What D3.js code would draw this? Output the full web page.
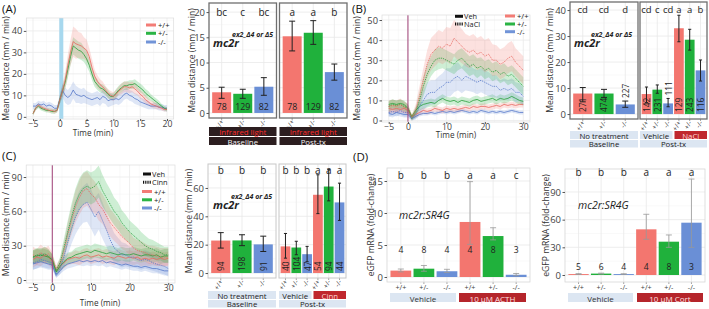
<!DOCTYPE html>
<html><head><meta charset="utf-8">
<script src="https://cdn.jsdelivr.net/npm/d3@7"></script>
<style>body{margin:0;background:#fff}svg{display:block}</style>
</head><body><script>
// ---------------- DATA ----------------
const genotypes = ["+/+", "+/-", "-/-"];

// Panel A time course (infrared light)
const timeA = [-5,-4.5,-4,-3.5,-3,-2.5,-2,-1.5,-1,-0.5,0,0.5,1,1.5,2,2.5,3,3.5,4,4.5,5,5.5,6,6.5,7,7.5,8,8.5,9,9.5,10,10.5,11,11.5,12,12.5,13,13.5,14,14.5,15,15.5,16,16.5,17,17.5,18,18.5,19,19.5,20];
const aWT   = [1.5,4,5.5,4.5,4,3.5,3,3,2.5,3, 8,12,17,24,30,35,34,33.5,33,32, 31,28,23,19,16.5,15,14,12.5,11,10, 9.5,10.5,12,13,14,14,13.5,14,13,12, 10.5,9.5,8,7,6,5.5,5,4.5,4,3.5, 3.5];
const aHet  = [1.5,4,5,4,3.5,3,3,2.5,2.5,3, 8,12,16,22,28,33,32,31,30.5,29, 27,24,20,16.5,15,13.5,13,12,10.5,9.5, 9.5,11,12.5,13.5,14.5,14.5,15,15,15.5,14.5, 13.5,12.5,11,10,9,8,7,6,5,4, 3.5];
const aMut  = [5,5,6,5.5,6,5,5.5,5,4,4, 8,12.5,10,9,10,12.5,10.5,10,9.5,10, 9,8.5,8,8.5,9,8,9.5,9,7.5,8, 8,8.5,8,9,10.5,11,10,9.5,8.5,8, 7,6.5,6,5.5,5,5,5,4.5,4.5,4, 4];
const aWTse  = [1,1,1,1,1,1,1,1,1,1, 2,3,4,5,6,7,7,6,6,5, 5,4,4,3,3,2.5,2.5,2,2,2, 2,2,2,2.5,2.5,2.5,2.5,2.5,2.5,2, 2,2,2,1.5,1.5,1.5,1.5,1,1,1, 1];
const aHetse = [1,1,1,1,1,1,1,1,1,1, 2,2.5,3,4,4,4,4,4,4,3.5, 3.5,3,3,2.5,2.5,2,2,2,2,1.5, 1.5,2,2,2,2,2,2,2,2,2, 2,2,2,2,1.5,1.5,1.5,1.5,1,1, 1];
const aMutse = [1.5,1.5,1.5,1.5,1.5,1.5,1.5,1.5,1.5,1.5, 2,3,3.5,3.5,4,4,4,3.5,3.5,3.5, 3,3,3,3,3,3,3,3,3,3, 2.5,2.5,2.5,2.5,2.5,2.5,2.5,2.5,2.5,2.5, 2,2,2,2,1.5,1.5,1.5,1.5,1.5,1.5, 1.5];

// Panel A bars
const aBarBase   = [4.1, 3.8, 5.2], aBarBaseLo = [2.9, 2.9, 3.5], aBarBaseHi = [5.1, 4.7, 7.0];
const aBarPost   = [15.2, 15.9, 8.1], aBarPostLo = [12.3, 13.6, 6.5], aBarPostHi = [18.2, 18.3, 9.7];
const aN = [78, 129, 82];
const aLetters = ["bc","c","bc","a","a","b"];

// Panels B & C time axis
const timeBC = [-5,-4,-3,-2,-1,0,1,2,3,4,5,6,7,8,9,10,11,12,13,14,15,16,17,18,19,20,21,22,23,24,25,26,27,28,29,30];

// Panel B (NaCl)
const bNaClWT  = [7,7.5,7,8,6.5,6, 1.5,5,12,20,28,33,35,37,36,38, 37,41,39,37,35,34,35,33,34,32, 33,30,30,28,29,31,32,29,27,25];
const bNaClHet = [7,8,7.5,8,7,6, 1,4,10,17,23,27,30,31,31,30, 29,28,30,31,29,27,28,26,27,25, 26,24,25,23,24,22,23,21,19,17];
const bNaClMut = [4,4.5,4,5,4,4, 1,3,7,10,13,14,14,16,17,19, 19,21,22,20,22,21,20,19,20,19, 18,17,17,15,16,15,16,14,14,12];
const bVehWT   = [6,5.5,6,5.5,6,5, 2,3,4,5,4.5,5,6,5.5,5,6, 5.5,6,5.5,6,6.5,6,7,6.5,7,7, 6.5,7,7.5,7,8,7.5,8,7.5,8,8];
const bVehHet  = [8,8.5,8,8.5,8,6, 2,5,7,8,8.5,9,8.5,10,11,10, 9.5,10,9,10,9.5,9,10,10.5,9.5,10, 10.5,11,10,11,10.5,11,12,11,10,9.5];
const bVehMut  = [3.5,3,4,3.5,3,3, 1,2,3,3.5,3.5,4,3.5,4,4.5,4, 4.5,4,4.5,5,4.5,4,4.5,4,5,4.5, 4,4.5,4,4.5,4,4.5,5,4.5,4,4];
const bNaClWTse  = [3,3,3,3,3,2.5, 1.5,3,5,6,7,8,8,8,8,8.5, 9,9,9,8.5,8,8,8,8,8,8, 8,8,7.5,7.5,7.5,7.5,7.5,7,7,7];
const bNaClHetse = [2.5,2.5,2.5,2.5,2.5,2, 1,2.5,4,5,5,5,5.5,5.5,5,5, 5,5,5,5,5,5,5,5,4.5,4.5, 4.5,4.5,4.5,4.5,4.5,4.5,4.5,4.5,4.5,4.5];
const bNaClMutse = [2,2,2,2,2,2, 1,2.5,4,5,6,6,6,6,6.5,7, 7,7,7,6.5,7,6.5,6,6,6,6, 6,5.5,5.5,5,5,5,5,5,4.5,4.5];
const bVehWTse   = [2,2,2,2,2,2, 1,1.5,1.5,1.5,1.5,1.5,1.5,1.5,1.5,1.5, 1.5,1.5,1.5,1.5,1.5,1.5,1.5,1.5,1.5,1.5, 1.5,1.5,1.5,1.5,1.5,1.5,1.5,1.5,1.5,1.5];
const bVehHetse  = [2,2,2,2,2,2, 1,1.5,2,2,2,2,2,2,2,2, 2,2,2,2,2,2,2,2,2,2, 2,2,2,2,2,2,2,2,2,2];
const bVehMutse  = [1.5,1.5,1.5,1.5,1.5,1.5, 1,1,1,1,1,1,1,1,1,1, 1,1,1,1,1,1,1,1,1,1, 1,1,1,1,1,1,1,1,1,1];

// Panel B bars
const bBarBase = [7.9, 7.9, 3.7], bBarBaseLo = [4.7, 6.4, 2.6], bBarBaseHi = [10.2, 9.5, 5.0];
const bBarPost = [7.7, 9.4, 4.1, 33.0, 28.6, 16.8], bBarPostLo = [4.4, 8.0, 2.8, 27.8, 24.6, 12.7], bBarPostHi = [10.4, 11.2, 6.0, 38.0, 32.6, 20.8];
const bNBase = [271, 474, 227], bNPost = [142, 231, 111, 129, 243, 116];
const bLetters = ["cd","cd","d","cd","c","cd","a","a","b"];

// Panel C (Cinn)
const cCinnWT  = [22,20,24,21,23,18, 10,14,25,40,52,64,72,78,80,75, 72,66,62,56,50,46,42,38,35,32, 28,26,25,24,22,22,21,20,20,20];
const cCinnHet = [20,22,21,23,21,17, 8,15,28,42,55,67,75,80,82,80, 82,86,78,72,66,60,56,50,46,42, 39,36,33,30,28,27,25,24,22,22];
const cCinnMut = [15,16,18,17,16,15, 5,10,20,33,45,55,62,66,68,62, 55,60,52,44,35,28,25,22,22,20, 20,18,17,18,17,15,14,13,12,10];
const cVehWT   = [18,20,19,22,20,16, 8,12,15,18,19,20,19,21,22,20, 21,22,20,21,20,19,21,20,19,20, 19,20,18,19,18,19,18,19,18,19];
const cVehHet  = [20,21,22,21,20,18, 7,12,16,19,20,22,23,24,25,24, 26,25,24,23,24,23,22,23,22,22, 23,22,21,22,22,21,22,20,21,21];
const cVehMut  = [14,15,16,15,14,13, 4,8,12,14,15,16,17,16,17,16, 17,16,17,15,16,15,14,13,14,13, 12,12,11,12,11,10,10,9,8,8];
const cCinnWTse  = [7,7,7,7,7,6, 3,5,8,10,12,14,15,15,15,15, 14,14,13,13,12,12,11,11,10,10, 9,9,9,8,8,8,8,8,8,8];
const cCinnHetse = [6,6,6,6,6,5, 3,5,8,10,12,13,14,14,14,14, 14,14,14,13,13,12,12,11,11,10, 10,10,9,9,8,8,8,7,7,7];
const cCinnMutse = [6,6,6,6,6,5, 3,5,8,11,13,15,16,16,17,17, 17,16,16,15,14,13,12,11,10,9, 9,8,8,8,8,7,7,7,7,7];
const cVehWTse   = [7,7,7,7,7,6, 3,4,5,5,5,6,6,6,6,6, 6,6,6,6,6,6,6,6,6,6, 6,6,6,6,6,6,6,6,6,6];
const cVehHetse  = [6,6,6,6,6,5, 3,4,5,5,5,6,6,6,6,6, 6,6,6,6,6,6,6,6,6,6, 6,6,6,6,6,6,6,6,6,6];
const cVehMutse  = [5,5,5,5,5,4, 2,3,4,4,4,4,4,4,4,4, 4,4,4,4,4,4,4,4,4,4, 4,4,4,4,4,4,4,4,4,4];

// Panel C bars
const cBarBase = [22.9, 23.0, 20.2], cBarBaseLo = [17.6, 19.3, 15.2], cBarBaseHi = [28.5, 27.0, 26.0];
const cBarPost = [18.8, 18.0, 13.3, 55.2, 61.0, 49.8], cBarPostLo = [10.5, 12.9, 8.0, 41.9, 50.9, 37.1], cBarPostHi = [27.9, 22.4, 18.8, 69.3, 73.1, 63.4];
const cNBase = [94, 198, 91], cNPost = [40, 104, 47, 54, 94, 44];
const cLetters = ["b","b","b","b","b","b","a","a","a"];

// Panel D (qPCR)
const dACTH = [1.0, 1.3, 0.9, 8.6, 6.4, 0.35], dACTHLo = [0.8, 0.9, 0.7, 5.1, 5.8, 0.2], dACTHHi = [1.25, 1.8, 1.2, 14.9, 7.7, 0.55];
const dACTHN = [4, 8, 4, 4, 8, 3];
const dACTHLetters = ["b","b","b","a","a","c"];
const dCort = [1.0, 1.5, 1.0, 49.5, 36.1, 56.7], dCortLo = [0.5, 1.0, 0.6, 38.7, 30.0, 30.0], dCortHi = [1.5, 2.0, 1.4, 65.8, 43.4, 104.0];
const dCortN = [5, 6, 4, 4, 8, 3];
const dCortLetters = ["b","b","b","a","a","a"];

// ---------------- DRAWING ----------------
const FONT = '"Open Sans", "Noto Sans", sans-serif';
const fillCol = {"+/+":"#F3766F", "+/-":"#20B13C", "-/-":"#6A8FD6"};
const lineCol = {"+/+":"#E8675F", "+/-":"#27A03A", "-/-":"#5677C9"};
const svg = d3.select("body").append("svg").attr("width",709).attr("height",309)
  .style("font-family", FONT);

function T(g, x, y, s, o = {}) {
  const t = g.append("text").attr("x", x).attr("y", y).text(s)
    .attr("font-size", o.size || 9).attr("fill", o.fill || "#333")
    .attr("text-anchor", o.anchor || "start");
  if (o.weight) t.attr("font-weight", o.weight);
  if (o.style) t.attr("font-style", o.style);
  if (o.rot !== undefined) t.attr("transform", `rotate(${o.rot},${x},${y})`);
  if (o.base) t.attr("dominant-baseline", o.base);
  return t;
}
function minors(ticks, dom) {
  const st = ticks[1] - ticks[0], out = [];
  for (let v = ticks[0] - st / 2; v <= ticks[ticks.length - 1] + st / 2 + 1e-9; v += st) {
    if (v >= Math.min(...dom) && v <= Math.max(...dom)) out.push(v);
  }
  return out;
}
function axisLeft(g, y, ticks, xPos, size) {
  const ax = g.append("g").attr("transform", `translate(${xPos},0)`)
    .call(d3.axisLeft(y).tickValues(ticks).tickSize(2.5).tickPadding(1.5).tickFormat(d3.format("d")));
  ax.select(".domain").remove();
  ax.selectAll("line").attr("stroke", "#555");
  ax.selectAll("text").attr("font-size", size).attr("fill", "#444").attr("font-family", FONT);
}
function axisBottom(g, x, ticks, yPos, size) {
  const ax = g.append("g").attr("transform", `translate(0,${yPos})`)
    .call(d3.axisBottom(x).tickValues(ticks).tickSize(2).tickPadding(0).tickFormat(d3.format("d")));
  ax.select(".domain").remove();
  ax.selectAll("line").attr("stroke", "#555");
  ax.selectAll("text").attr("font-size", size).attr("fill", "#444").attr("font-family", FONT);
}

function lineChart(o) {
  const g = svg.append("g");
  const x = d3.scaleLinear().domain(o.xDom).range([o.l, o.r]);
  const y = d3.scaleLinear().domain(o.yDom).range([o.b, o.t]);
  // grid
  minors(o.yTicks, o.yDom).forEach(v => g.append("line").attr("x1", o.l).attr("x2", o.r).attr("y1", y(v)).attr("y2", y(v)).attr("stroke", "#f3f3f3").attr("stroke-width", 0.5));
  minors(o.xTicks, o.xDom).forEach(v => g.append("line").attr("y1", o.t).attr("y2", o.b).attr("x1", x(v)).attr("x2", x(v)).attr("stroke", "#f3f3f3").attr("stroke-width", 0.5));
  o.yTicks.forEach(v => g.append("line").attr("x1", o.l).attr("x2", o.r).attr("y1", y(v)).attr("y2", y(v)).attr("stroke", "#ebebeb").attr("stroke-width", 0.8));
  o.xTicks.forEach(v => g.append("line").attr("y1", o.t).attr("y2", o.b).attr("x1", x(v)).attr("x2", x(v)).attr("stroke", "#ebebeb").attr("stroke-width", 0.8));
  if (o.vband) g.append("rect").attr("x", x(0) - 0.5).attr("y", o.t).attr("width", 4).attr("height", o.b - o.t).attr("fill", "#a7d8ee");
  // ribbons
  o.series.forEach(s => {
    const pts = o.time.map((t, i) => ({t, m: s.mean[i], se: s.se[i]}));
    g.append("path").datum(pts)
      .attr("d", d3.area().x(d => x(d.t)).y0(d => y(Math.max(d.m - d.se, o.yDom[0]))).y1(d => y(d.m + d.se)))
      .attr("fill", fillCol[s.geno]).attr("opacity", 0.22);
  });
  o.series.forEach(s => {
    const pts = o.time.map((t, i) => ({t, m: s.mean[i]}));
    g.append("path").datum(pts).attr("d", d3.line().x(d => x(d.t)).y(d => y(d.m)))
      .attr("fill", "none").attr("stroke", lineCol[s.geno]).attr("stroke-width", 0.8)
      .attr("stroke-dasharray", s.dotted ? "1.3,0.9" : null);
  });
  if (o.vline) g.append("line").attr("x1", x(0)).attr("x2", x(0)).attr("y1", o.t).attr("y2", o.b).attr("stroke", "#a2437a").attr("stroke-width", 1);
  g.append("rect").attr("x", o.l).attr("y", o.t).attr("width", o.r - o.l).attr("height", o.b - o.t).attr("fill", "none").attr("stroke", "#dcdcdc").attr("stroke-width", 0.7);
  axisLeft(g, y, o.yTicks, o.l, 9.3);
  axisBottom(g, x, o.xTicks, o.b, 8.6);
  T(g, o.yTitleX, (o.t + o.b) / 2, "Mean distance (mm / min)", {size: 8.6, anchor: "middle", rot: -90, fill: "#333"});
  T(g, o.xTitleX, o.xTitleY, "Time (min)", {size: 8.2, anchor: "middle", fill: "#333"});
  // legend
  const L = o.legend;
  if (L.treat) {
    L.treat.forEach((tr, i) => {
      const yy = L.treatY[i];
      g.append("line").attr("x1", L.tx).attr("x2", L.tx + 8).attr("y1", yy).attr("y2", yy).attr("stroke", "#111").attr("stroke-width", 3).attr("stroke-dasharray", i === 1 ? "1,0.8" : null);
      T(g, L.tx + 9, yy, tr, {size: 7.4, base: "central", fill: "#222"});
    });
  }
  genotypes.forEach((gn, i) => {
    const yy = L.genoY[i];
    g.append("line").attr("x1", L.gx).attr("x2", L.gx + 10).attr("y1", yy).attr("y2", yy).attr("stroke", fillCol[gn]).attr("stroke-width", 3).attr("opacity", 0.95);
    T(g, L.gx + 12, yy, gn, {size: 7.6, base: "central", fill: "#222"});
  });
}

function barChart(o) {
  const g = svg.append("g");
  const y = d3.scaleLinear().domain(o.yDom).range([o.b, o.t]);
  let li = 0;
  o.panels.forEach((p, pi) => {
    const x = d3.scaleBand().domain(d3.range(p.vals.length)).range([p.x0, p.x1]).paddingInner(0.1).paddingOuter(0.15);
    g.append("rect").attr("x", p.x0).attr("y", o.t).attr("width", p.x1 - p.x0).attr("height", o.b - o.t).attr("fill", "#fff");
    minors(o.yTicks, o.yDom).forEach(v => g.append("line").attr("x1", p.x0).attr("x2", p.x1).attr("y1", y(v)).attr("y2", y(v)).attr("stroke", "#f3f3f3").attr("stroke-width", 0.5));
    o.yTicks.forEach(v => g.append("line").attr("x1", p.x0).attr("x2", p.x1).attr("y1", y(v)).attr("y2", y(v)).attr("stroke", "#e8e8e8").attr("stroke-width", 0.8));
    p.vals.forEach((v, i) => g.append("line").attr("x1", x(i) + x.bandwidth() / 2).attr("x2", x(i) + x.bandwidth() / 2).attr("y1", o.t).attr("y2", o.b).attr("stroke", "#e8e8e8").attr("stroke-width", 0.8));
    const geno = i => genotypes[i % 3];
    g.selectAll(null).data(p.vals).enter().append("rect")
      .attr("x", (d, i) => x(i)).attr("width", x.bandwidth())
      .attr("y", d => y(d)).attr("height", d => y(0) - y(d))
      .attr("fill", (d, i) => fillCol[geno(i)]);
    const cap = Math.min(6, x.bandwidth() * 0.32);
    p.vals.forEach((v, i) => {
      const cx = x(i) + x.bandwidth() / 2;
      const ec = o.errCol || "#222", ew = o.errW || 1;
      g.append("line").attr("x1", cx).attr("x2", cx).attr("y1", y(p.lo[i])).attr("y2", y(p.hi[i])).attr("stroke", ec).attr("stroke-width", ew);
      [p.lo[i], p.hi[i]].forEach(e => g.append("line").attr("x1", cx - cap / 2).attr("x2", cx + cap / 2).attr("y1", y(e)).attr("y2", y(e)).attr("stroke", ec).attr("stroke-width", ew));
      // letters
      T(g, cx, o.letterY, o.letters[li++], {size: o.letterSize || 10, anchor: "middle", fill: "#222"});
      // n labels
      if (o.nMode === "h") {
        T(g, cx, y(0) - 3, p.n[i], {size: 8.8, anchor: "middle", fill: "#222"});
      } else if (o.nMode === "v") {
        const t = T(g, cx, y(0) - 2, p.n[i], {size: 8.4, anchor: "start", fill: "#222", base: "central"});
        const len = t.node().getComputedTextLength();
        const barH = y(0) - y(v);
        let yy = y(0) - 2;
        if (barH < len + 3) yy = y(p.hi[i]) - 3;
        t.attr("y", yy).attr("transform", `rotate(-90,${cx},${yy})`);
      } else {
        T(g, cx, y(o.nAt), p.n[i], {size: 8.6, anchor: "middle", fill: "#222", base: "central"});
      }
      // x tick + labels
      g.append("line").attr("x1", cx).attr("x2", cx).attr("y1", o.b).attr("y2", o.b + 2).attr("stroke", "#666").attr("stroke-width", 0.6);
      if (o.xlabRot) {
        T(g, cx + 2.5, o.b + 3.5, geno(i), {size: 6.8, anchor: "end", rot: -60, fill: "#444"});
      } else {
        T(g, cx, o.xlabY, geno(i), {size: 7.2, anchor: "middle", fill: "#444"});
      }
    });
    g.append("rect").attr("x", p.x0).attr("y", o.t).attr("width", p.x1 - p.x0).attr("height", o.b - o.t).attr("fill", "none").attr("stroke", o.border).attr("stroke-width", o.borderW || 1.2);
  });
  axisLeft(g, y, o.yTicks, o.panels[0].x0, 9.5);
  T(g, o.yTitleX, (o.t + o.b) / 2, o.yTitle, {size: 8.6, anchor: "middle", rot: -90, fill: "#333"});
  (o.strips || []).forEach(s => {
    g.append("rect").attr("x", s.x0).attr("y", s.y0).attr("width", s.x1 - s.x0).attr("height", s.y1 - s.y0).attr("fill", s.fill);
    T(g, (s.x0 + s.x1) / 2, (s.y0 + s.y1) / 2 + 0.5, s.text, {size: s.size || 7.8, anchor: "middle", fill: s.color, base: "central"});
  });
  return g;
}

function mc2r(x, y, sx, sy) {
  T(svg, x, y, "mc2r", {size: 11, weight: 700, style: "italic", fill: "#222"});
  T(svg, sx, sy, "ex2_Δ4 or Δ5", {size: 7, weight: 700, style: "italic", fill: "#222"});
}

// ---- Panel A line ----
lineChart({
  l: 26.3, r: 173.7, t: 18, b: 119, xDom: [-6.25, 21.25], yDom: [-1, 46],
  xTicks: [-5, 0, 5, 10, 15, 20], yTicks: [0, 10, 20, 30, 40], time: timeA, vband: true,
  series: [
    {geno: "-/-", mean: aMut, se: aMutse}, {geno: "+/-", mean: aHet, se: aHetse}, {geno: "+/+", mean: aWT, se: aWTse}],
  yTitleX: 9, xTitleX: 93, xTitleY: 136,
  legend: {gx: 146, genoY: [25, 33.3, 42]}
});
T(svg, 2, 13, "(A)", {size: 11.5, fill: "#111"});

// ---- Panel A bars ----
const DARK = "#2c1e20";
barChart({
  t: 3, b: 118, yDom: [-1, 21.8], yTicks: [0, 5, 10, 15, 20],
  panels: [
    {x0: 209, x1: 276.5, vals: aBarBase, lo: aBarBaseLo, hi: aBarBaseHi, n: aN},
    {x0: 279.5, x1: 347, vals: aBarPost, lo: aBarPostLo, hi: aBarPostHi, n: aN}],
  letters: aLetters, letterY: 16, nMode: "h", xlabRot: true, border: "#6f6f6f", borderW: 1.3,
  yTitle: "Mean distance (mm / min)", yTitleX: 195,
  strips: [
    {x0: 209, x1: 276.5, y0: 127, y1: 136, fill: DARK, text: "Infrared light", color: "#ff2b2b"},
    {x0: 279.5, x1: 347, y0: 127, y1: 136, fill: DARK, text: "Infrared light", color: "#ff2b2b"},
    {x0: 209, x1: 276.5, y0: 137, y1: 145, fill: DARK, text: "Baseline", color: "#f4f4f4"},
    {x0: 279.5, x1: 347, y0: 137, y1: 145, fill: DARK, text: "Post-tx", color: "#f4f4f4"}]
});
mc2r(213, 47, 232, 37);

// ---- Panel B line ----
lineChart({
  l: 382, r: 530, t: 15, b: 122, xDom: [-6.75, 31.75], yDom: [-0.75, 52.5],
  xTicks: [-5, 0, 10, 20, 30], yTicks: [0, 10, 20, 30, 40, 50], time: timeBC, vline: true,
  series: [
    {geno: "-/-", mean: bVehMut, se: bVehMutse}, {geno: "+/+", mean: bVehWT, se: bVehWTse}, {geno: "+/-", mean: bVehHet, se: bVehHetse},
    {geno: "-/-", mean: bNaClMut, se: bNaClMutse, dotted: true}, {geno: "+/-", mean: bNaClHet, se: bNaClHetse, dotted: true}, {geno: "+/+", mean: bNaClWT, se: bNaClWTse, dotted: true}],
  yTitleX: 360, xTitleX: 456, xTitleY: 138,
  legend: {treat: ["Veh", "NaCl"], tx: 455, treatY: [16.3, 24], gx: 505, genoY: [16, 24, 31.7]}
});
T(svg, 352, 13, "(B)", {size: 11.5, fill: "#111"});

// ---- Panel B bars ----
const LB = "#dce6f2", RED = "#c0272d";
barChart({
  t: 2, b: 119, yDom: [-1.9, 43.1], yTicks: [0, 10, 20, 30, 40],
  panels: [
    {x0: 570, x1: 638, vals: bBarBase, lo: bBarBaseLo, hi: bBarBaseHi, n: bNBase},
    {x0: 640, x1: 707, vals: bBarPost, lo: bBarPostLo, hi: bBarPostHi, n: bNPost}],
  letters: bLetters, letterY: 13, letterSize: 9.5, nMode: "v", xlabRot: true, border: "#6f6f6f", borderW: 1.3,
  yTitle: "Mean distance (mm / min)", yTitleX: 553,
  strips: [
    {x0: 570, x1: 638, y0: 131, y1: 139, fill: LB, text: "No treatment", color: "#222"},
    {x0: 640, x1: 672.5, y0: 131, y1: 139, fill: LB, text: "Vehicle", color: "#222"},
    {x0: 674.5, x1: 707, y0: 131, y1: 139, fill: RED, text: "NaCl", color: "#ffd6d6"},
    {x0: 570, x1: 638, y0: 140, y1: 147.5, fill: LB, text: "Baseline", color: "#222"},
    {x0: 640, x1: 707, y0: 140, y1: 147.5, fill: LB, text: "Post-tx", color: "#222"}]
});
mc2r(574, 47, 591, 37);

// ---- Panel C line ----
lineChart({
  l: 26.2, r: 175, t: 165, b: 283, xDom: [-6.75, 31.75], yDom: [-2.6, 100.5],
  xTicks: [-5, 0, 10, 20, 30], yTicks: [0, 30, 60, 90], time: timeBC, vline: true,
  series: [
    {geno: "-/-", mean: cVehMut, se: cVehMutse}, {geno: "+/+", mean: cVehWT, se: cVehWTse}, {geno: "+/-", mean: cVehHet, se: cVehHetse},
    {geno: "-/-", mean: cCinnMut, se: cCinnMutse, dotted: true}, {geno: "+/+", mean: cCinnWT, se: cCinnWTse, dotted: true}, {geno: "+/-", mean: cCinnHet, se: cCinnHetse, dotted: true}],
  yTitleX: 9, xTitleX: 100, xTitleY: 305.5,
  legend: {treat: ["Veh", "Cinn"], tx: 143, treatY: [174, 182.3], gx: 142, genoY: [191.5, 199.8, 208]}
});
T(svg, 2, 160, "(C)", {size: 11.5, fill: "#111"});

// ---- Panel C bars ----
barChart({
  t: 164, b: 278, yDom: [-3.5, 76.9], yTicks: [0, 20, 40, 60],
  panels: [
    {x0: 208, x1: 276, vals: cBarBase, lo: cBarBaseLo, hi: cBarBaseHi, n: cNBase},
    {x0: 279, x1: 346, vals: cBarPost, lo: cBarPostLo, hi: cBarPostHi, n: cNPost}],
  letters: cLetters, letterY: 174, nMode: "v", xlabRot: true, border: "#c8c8c8", borderW: 1,
  yTitle: "Mean distance (mm / min)", yTitleX: 192,
  strips: [
    {x0: 208, x1: 276, y0: 291, y1: 299, fill: LB, text: "No treatment", color: "#222"},
    {x0: 279, x1: 311.5, y0: 291, y1: 299, fill: LB, text: "Vehicle", color: "#222"},
    {x0: 313.5, x1: 346, y0: 291, y1: 299, fill: RED, text: "Cinn", color: "#ffd6d6"},
    {x0: 208, x1: 276, y0: 300, y1: 307.5, fill: LB, text: "Baseline", color: "#222"},
    {x0: 279, x1: 346, y0: 300, y1: 307.5, fill: LB, text: "Post-tx", color: "#222"}]
});
mc2r(213, 209, 231, 199);

// ---- Panel D left (ACTH) ----
barChart({
  t: 168, b: 282, yDom: [-0.78, 17.03], yTicks: [0, 5, 10, 15],
  panels: [{x0: 387, x1: 530, vals: dACTH, lo: dACTHLo, hi: dACTHHi, n: dACTHN}],
  letters: dACTHLetters, letterY: 179, nMode: "fixed", nAt: 4.2, xlabRot: false, xlabY: 290,
  border: "#d6d6d6", borderW: 0.8, errCol: "#999", errW: 0.8,
  yTitle: "eGFP mRNA (fold-change)", yTitleX: 374,
  strips: [
    {x0: 390, x1: 456, y0: 293, y1: 302, fill: LB, text: "Vehicle", color: "#333", size: 8},
    {x0: 459, x1: 526, y0: 293, y1: 302, fill: "#b5252b", text: "10 μM ACTH", color: "#ffe0e0", size: 8}]
});
T(svg, 399, 219, "mc2r:SR4G", {size: 10.5, style: "italic", fill: "#222"});
T(svg, 353, 161, "(D)", {size: 11.5, fill: "#111"});

// ---- Panel D right (Cort) ----
barChart({
  t: 169, b: 282, yDom: [-7.6, 114.9], yTicks: [0, 30, 60, 90],
  panels: [{x0: 565, x1: 705, vals: dCort, lo: dCortLo, hi: dCortHi, n: dCortN}],
  letters: dCortLetters, letterY: 176, nMode: "fixed", nAt: 8.7, xlabRot: false, xlabY: 290,
  border: "#d6d6d6", borderW: 0.8, errCol: "#999", errW: 0.8,
  yTitle: "eGFP mRNA (fold-change)", yTitleX: 549,
  strips: [
    {x0: 568, x1: 633, y0: 293, y1: 302, fill: LB, text: "Vehicle", color: "#333", size: 8},
    {x0: 637, x1: 703, y0: 293, y1: 302, fill: "#b5252b", text: "10 μM Cort", color: "#ffe0e0", size: 8}]
});
T(svg, 578, 209, "mc2r:SR4G", {size: 10.5, style: "italic", fill: "#222"});
</script></body></html>
